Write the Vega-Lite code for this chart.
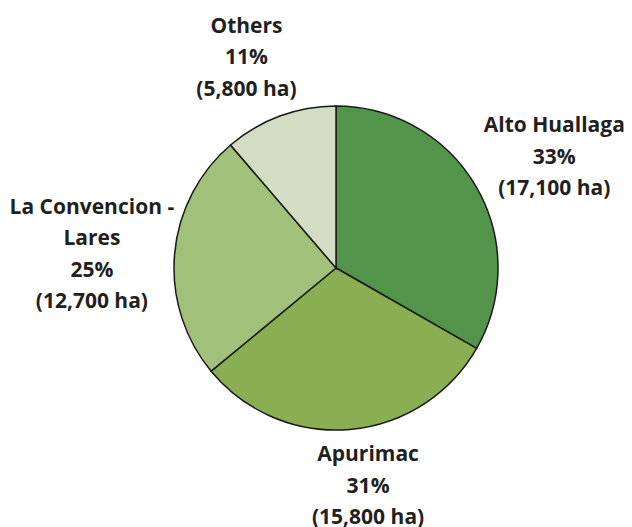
{
  "$schema": "https://vega.github.io/schema/vega-lite/v6.json",
  "width": 592,
  "height": 518,
  "autosize": {"type": "none"},
  "padding": {"left": 40, "top": 9, "right": 0, "bottom": 0},
  "background": "white",
  "view": {"stroke": null},
  "data": {
    "values": [
      {"region": "Alto Huallaga", "ha": 17100, "rank": 1, "label": "Alto Huallaga\n33%\n(17,100 ha)"},
      {"region": "Apurimac", "ha": 15800, "rank": 2, "label": "Apurimac\n31%\n(15,800 ha)"},
      {"region": "La Convencion - Lares", "ha": 12700, "rank": 3, "label": "La Convencion -\nLares\n25%\n(12,700 ha)"},
      {"region": "Others", "ha": 5800, "rank": 4, "label": "Others\n11%\n(5,800 ha)"}
    ]
  },
  "encoding": {
    "theta": {"field": "ha", "type": "quantitative", "stack": true},
    "order": {"field": "rank", "type": "quantitative"}
  },
  "layer": [
    {
      "mark": {"type": "arc", "outerRadius": 162, "stroke": "#1a1a1a", "strokeWidth": 1.5},
      "encoding": {
        "color": {
          "field": "region",
          "type": "nominal",
          "scale": {
            "domain": ["Alto Huallaga", "Apurimac", "La Convencion - Lares", "Others"],
            "range": ["#52944a", "#8aae52", "#a1c17a", "#d2ddc3"]
          },
          "legend": null
        }
      }
    },
    {
      "mark": {"type": "text", "radius": 235, "dx": 15, "dy": -24, "font": "Open Sans", "fontWeight": "bold", "fontSize": 21, "lineHeight": 31.5, "lineBreak": "\n", "align": "center", "baseline": "middle", "color": "#231f20"},
      "encoding": {"text": {"condition": {"test": "datum.region === 'Alto Huallaga'", "field": "label", "type": "nominal"}, "value": ""}}
    },
    {
      "mark": {"type": "text", "radius": 235, "dx": 12, "dy": -47, "font": "Open Sans", "fontWeight": "bold", "fontSize": 21, "lineHeight": 31.5, "lineBreak": "\n", "align": "center", "baseline": "middle", "color": "#231f20"},
      "encoding": {"text": {"condition": {"test": "datum.region === 'Apurimac'", "field": "label", "type": "nominal"}, "value": ""}}
    },
    {
      "mark": {"type": "text", "radius": 235, "dx": -10, "dy": -40, "font": "Open Sans", "fontWeight": "bold", "fontSize": 21, "lineHeight": 31.5, "lineBreak": "\n", "align": "center", "baseline": "middle", "color": "#231f20"},
      "encoding": {"text": {"condition": {"test": "datum.region === 'La Convencion - Lares'", "field": "label", "type": "nominal"}, "value": ""}}
    },
    {
      "mark": {"type": "text", "radius": 235, "dx": -8, "dy": -21, "font": "Open Sans", "fontWeight": "bold", "fontSize": 21, "lineHeight": 31.5, "lineBreak": "\n", "align": "center", "baseline": "middle", "color": "#231f20"},
      "encoding": {"text": {"condition": {"test": "datum.region === 'Others'", "field": "label", "type": "nominal"}, "value": ""}}
    }
  ]
}
